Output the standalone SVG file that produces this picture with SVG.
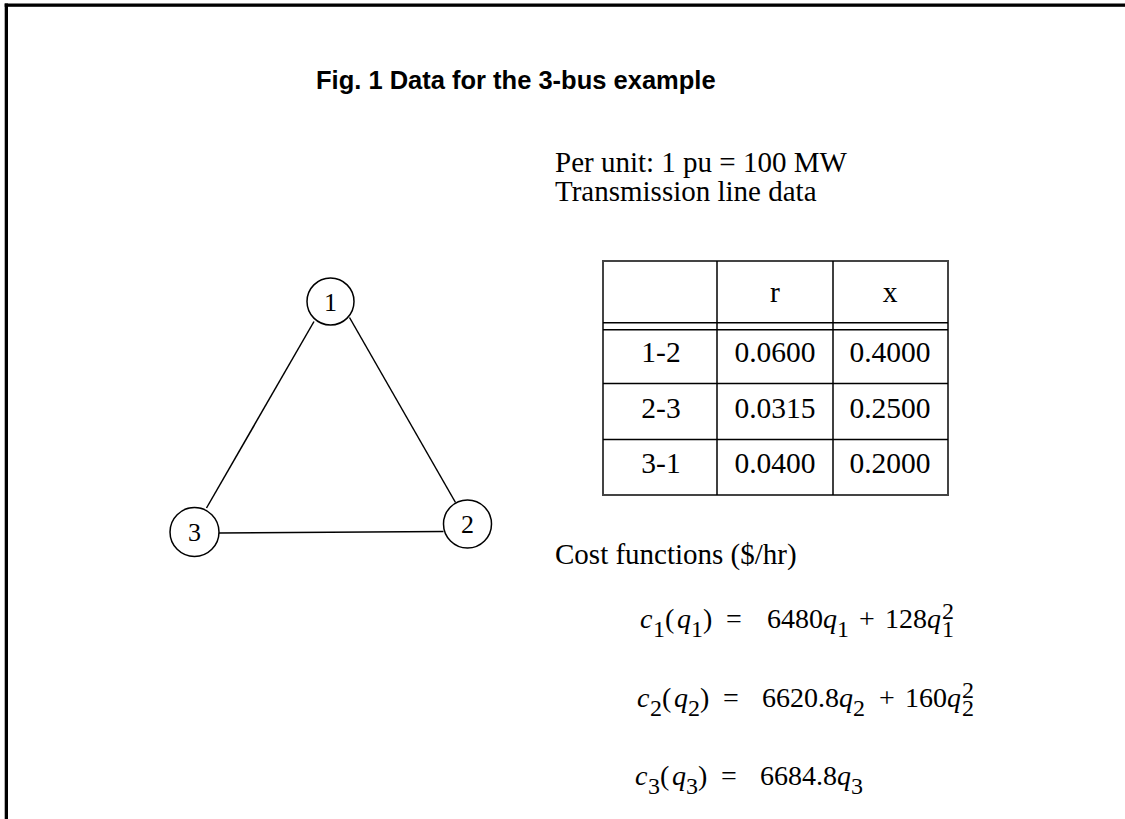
<svg xmlns="http://www.w3.org/2000/svg" width="1125" height="819" viewBox="0 0 1125 819">
<style>
.t{font-family:"Liberation Serif","Times New Roman",serif;font-size:28px;fill:#000}
.tb{font-size:29.5px}
.c{text-anchor:middle}
.i{font-style:italic}
.s{font-size:24px}
.h{font-family:"Liberation Sans",Arial,sans-serif;font-weight:bold;font-size:25.5px;fill:#000}
.node{fill:#fff;stroke:#000;stroke-width:1.5}
.edge{stroke:#000;stroke-width:1.5;fill:none}
.outer{stroke:#444;stroke-width:2;fill:none}
.inner{stroke:#000;stroke-width:1.5;fill:none}
</style>
<rect width="1125" height="819" fill="#fff"/>
<g id="frame">
<rect x="4.7" y="3.5" width="1120.3" height="3.3" fill="#000"/>
<rect x="4.7" y="3.5" width="3.3" height="815.5" fill="#000"/>
</g>
<text class="h" x="316" y="89">Fig. 1 Data for the 3-bus example</text>
<g id="connectors">
<line class="edge" x1="314" y1="321.5" x2="206.5" y2="508"/>
<line class="edge" x1="349.5" y1="317.5" x2="455.5" y2="502.5"/>
<line class="edge" x1="219" y1="533" x2="443.5" y2="531.5"/>
</g>
<g id="node1"><circle class="node" cx="330.5" cy="301.5" r="23.5"/><text class="t c" x="330.5" y="310.5" style="font-size:26px">1</text></g>
<g id="node2"><circle class="node" cx="467.5" cy="524" r="24"/><text class="t c" x="467.5" y="533" style="font-size:26px">2</text></g>
<g id="node3"><circle class="node" cx="194.5" cy="532" r="24.5"/><text class="t c" x="194.5" y="541" style="font-size:26px">3</text></g>
<text class="t" x="555" y="172" style="font-size:29px">Per unit: 1 pu = 100 MW</text>
<text class="t" x="555" y="201" style="font-size:29px">Transmission line data</text>
<g id="table">
<rect class="outer" x="603" y="261" width="345" height="234"/>
<line class="inner" x1="717" y1="261" x2="717" y2="495"/>
<line class="inner" x1="833" y1="261" x2="833" y2="495"/>
<line class="inner" x1="603" y1="322.7" x2="948" y2="322.7"/>
<line class="inner" x1="603" y1="329.8" x2="948" y2="329.8"/>
<line class="inner" x1="603" y1="383.5" x2="948" y2="383.5"/>
<line class="inner" x1="603" y1="439.5" x2="948" y2="439.5"/>
<text class="t tb c" x="775" y="302">r</text>
<text class="t tb c" x="890" y="302">x</text>
<text class="t tb c" x="661" y="362">1-2</text>
<text class="t tb c" x="775" y="362">0.0600</text>
<text class="t tb c" x="890" y="362">0.4000</text>
<text class="t tb c" x="661" y="418">2-3</text>
<text class="t tb c" x="775" y="418">0.0315</text>
<text class="t tb c" x="890" y="418">0.2500</text>
<text class="t tb c" x="661" y="473">3-1</text>
<text class="t tb c" x="775" y="473">0.0400</text>
<text class="t tb c" x="890" y="473">0.2000</text>
</g>
<text class="t" x="555" y="564" style="font-size:29px">Cost functions ($/hr)</text>
<g id="eq1">
<text class="t" y="628"><tspan class="i" x="640">c</tspan><tspan class="s" x="653" dy="9">1</tspan><tspan x="665" dy="-9">(</tspan><tspan class="i" x="677">q</tspan><tspan class="s" dy="9">1</tspan><tspan dy="-9">)</tspan><tspan x="726">=</tspan><tspan x="767">6480</tspan><tspan class="i">q</tspan><tspan class="s" dy="9">1</tspan><tspan x="859" dy="-9">+</tspan><tspan x="885">128</tspan><tspan class="i">q</tspan><tspan class="s" x="942" dy="9">1</tspan><tspan class="s" x="942" dy="-18">2</tspan></text>
</g>
<g id="eq2">
<text class="t" y="707"><tspan class="i" x="637">c</tspan><tspan class="s" x="650" dy="9">2</tspan><tspan x="662" dy="-9">(</tspan><tspan class="i" x="674">q</tspan><tspan class="s" dy="9">2</tspan><tspan dy="-9">)</tspan><tspan x="723">=</tspan><tspan x="762">6620.8</tspan><tspan class="i">q</tspan><tspan class="s" dy="9">2</tspan><tspan x="879" dy="-9">+</tspan><tspan x="905">160</tspan><tspan class="i">q</tspan><tspan class="s" x="962" dy="9">2</tspan><tspan class="s" x="962" dy="-18">2</tspan></text>
</g>
<g id="eq3">
<text class="t" y="785"><tspan class="i" x="635">c</tspan><tspan class="s" x="648" dy="9">3</tspan><tspan x="660" dy="-9">(</tspan><tspan class="i" x="672">q</tspan><tspan class="s" dy="9">3</tspan><tspan dy="-9">)</tspan><tspan x="721">=</tspan><tspan x="760">6684.8</tspan><tspan class="i">q</tspan><tspan class="s" dy="9">3</tspan></text>
</g>
</svg>
